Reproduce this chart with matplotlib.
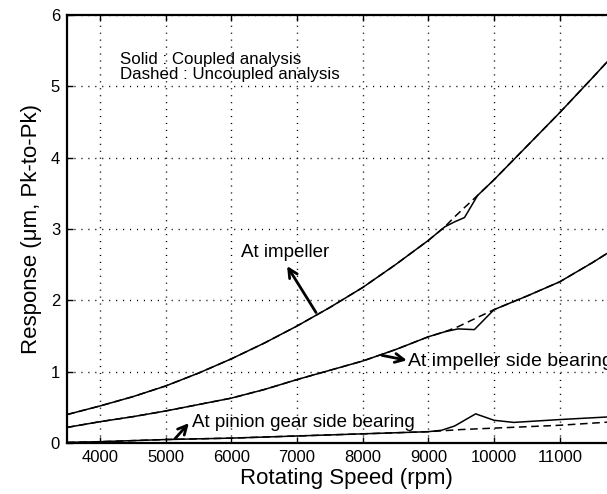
import matplotlib
matplotlib.use('Agg')
import matplotlib.pyplot as plt

plt.rcParams['font.family'] = ['Liberation Sans', 'DejaVu Sans']

# response at the impeller
rpm_imp = [3500, 4000, 4500, 5000, 5500, 6000, 6500, 7000, 7500, 8000, 8500, 9000,
           9250, 9400, 9550, 9750, 10000, 10500, 11000, 11500, 12000]
imp_coupled = [0.40, 0.52, 0.65, 0.80, 0.98, 1.18, 1.40, 1.64, 1.90, 2.18, 2.50, 2.84,
               3.03, 3.10, 3.16, 3.47, 3.69, 4.16, 4.63, 5.12, 5.62]
imp_uncoupled = [0.40, 0.52, 0.65, 0.80, 0.98, 1.18, 1.40, 1.64, 1.90, 2.18, 2.50, 2.84,
                 3.03, 3.17, 3.30, 3.47, 3.69, 4.16, 4.63, 5.12, 5.62]

# response at the impeller side bearing
rpm_isb = [3500, 4000, 4500, 5000, 5500, 6000, 6500, 7000, 7500, 8000, 8500, 9000,
           9250, 9450, 9700, 10000, 10500, 11000, 11500, 12000]
isb_coupled = [0.22, 0.30, 0.37, 0.45, 0.54, 0.63, 0.75, 0.89, 1.02, 1.15, 1.31, 1.49,
               1.56, 1.60, 1.59, 1.87, 2.06, 2.26, 2.53, 2.82]
isb_uncoupled = [0.22, 0.30, 0.37, 0.45, 0.54, 0.63, 0.75, 0.89, 1.02, 1.15, 1.31, 1.49,
                 1.56, 1.63, 1.74, 1.87, 2.06, 2.26, 2.53, 2.82]

# response at the pinion gear side bearing
rpm_pin = [3500, 4000, 5000, 6000, 7000, 8000, 9000, 9200, 9400, 9720, 10000, 10300, 11000, 12000]
pin_coupled = [0.01, 0.02, 0.05, 0.07, 0.10, 0.13, 0.16, 0.18, 0.24, 0.41, 0.32, 0.29, 0.33, 0.38]
rpm_pin_u = [3500, 4000, 5000, 6000, 7000, 8000, 9000, 9500, 10000, 11000, 12000]
pin_uncoupled = [0.01, 0.02, 0.05, 0.07, 0.10, 0.13, 0.16, 0.19, 0.21, 0.25, 0.31]

fig = plt.figure(figsize=(6.07, 4.94), dpi=100)
ax = fig.add_axes([0.1104, 0.103, 0.920, 0.867])

for x, yc, yu in [(rpm_imp, imp_coupled, imp_uncoupled),
                  (rpm_isb, isb_coupled, isb_uncoupled)]:
    ax.plot(x, yu, color='black', lw=1.1, ls=(0, (5, 3)))
    ax.plot(x, yc, color='black', lw=1.1)
ax.plot(rpm_pin_u, pin_uncoupled, color='black', lw=1.1, ls=(0, (5, 3)))
ax.plot(rpm_pin, pin_coupled, color='black', lw=1.1)

ax.set_xlim(3500, 12000)
ax.set_ylim(0, 6)
ax.set_xticks([4000, 5000, 6000, 7000, 8000, 9000, 10000, 11000])
ax.set_yticks([0, 1, 2, 3, 4, 5, 6])
ax.tick_params(direction='in', top=True, length=4, width=1, labelsize=12, pad=5)
ax.grid(True, color='black', lw=1, ls=(0, (0.8, 4.2)))
for s in ax.spines.values():
    s.set_linewidth(1.6)

ax.set_xlabel('Rotating Speed (rpm)', fontsize=16, labelpad=2)
ax.set_ylabel('Response (μm, Pk-to-Pk)', fontsize=16, labelpad=6)

ax.text(4300, 5.37, 'Solid : Coupled analysis', fontsize=12.2, va='center')
ax.text(4300, 5.16, 'Dashed : Uncoupled analysis', fontsize=12.2, va='center')

arrow = dict(arrowstyle='->', lw=2, color='black', mutation_scale=16, shrinkA=0, shrinkB=0)
ax.annotate('', xy=(6850, 2.48), xytext=(7290, 1.83), arrowprops=arrow)
ax.text(6150, 2.67, 'At impeller', fontsize=13.5, va='center')
ax.annotate('', xy=(8673, 1.16), xytext=(8292, 1.23), arrowprops=arrow)
ax.text(8690, 1.14, 'At impeller side bearing', fontsize=14, va='center')
ax.annotate('', xy=(5355, 0.28), xytext=(5142, 0.06), arrowprops=arrow)
ax.text(5400, 0.29, 'At pinion gear side bearing', fontsize=13.5, va='center')

fig.savefig('out.png', dpi=100)
